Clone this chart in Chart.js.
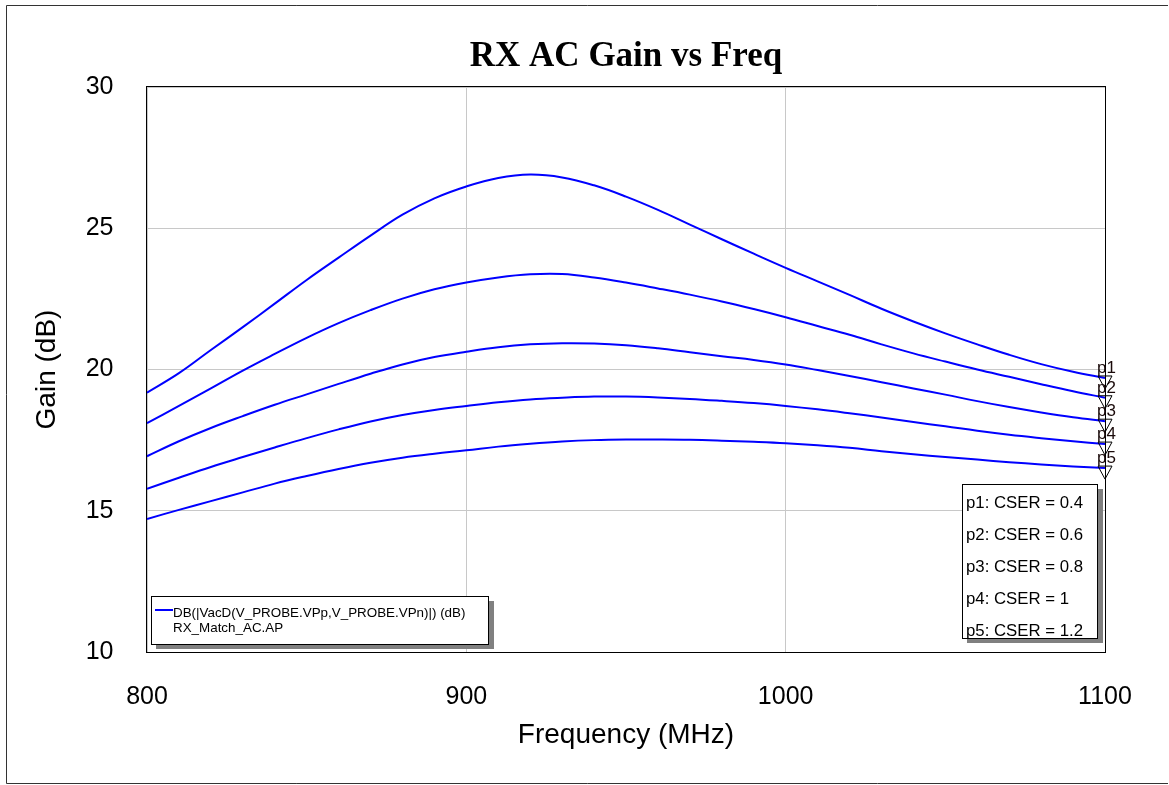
<!DOCTYPE html>
<html>
<head>
<meta charset="utf-8">
<script src="https://cdn.jsdelivr.net/npm/chart.js@4.4.1/dist/chart.umd.min.js"></script>
<style>
  html, body { margin: 0; padding: 0; background: #ffffff; }
  #wrap { width: 1169px; height: 785px; position: relative; }
</style>
</head>
<body>
<div id="wrap"><canvas id="c" width="1169" height="785"></canvas></div>
<script>
const freqs = [800,810,820,830,840,850,860,870,880,890,900,910,920,930,940,950,960,970,980,990,1000,1010,1020,1030,1040,1050,1060,1070,1080,1090,1100];
const gainP1 = [19.18,19.87,20.69,21.50,22.33,23.17,23.96,24.74,25.48,26.06,26.48,26.78,26.90,26.80,26.52,26.12,25.65,25.13,24.61,24.10,23.60,23.12,22.64,22.15,21.70,21.28,20.89,20.52,20.19,19.92,19.70];
const gainP2 = [18.10,18.71,19.33,19.96,20.55,21.12,21.64,22.10,22.51,22.84,23.08,23.26,23.37,23.38,23.26,23.08,22.87,22.65,22.41,22.14,21.85,21.54,21.23,20.89,20.57,20.28,20.00,19.74,19.48,19.23,19.00];
const gainP3 = [16.93,17.46,17.93,18.35,18.75,19.12,19.49,19.85,20.18,20.44,20.63,20.79,20.89,20.93,20.92,20.86,20.75,20.61,20.47,20.34,20.18,19.98,19.77,19.55,19.33,19.11,18.88,18.67,18.48,18.31,18.17];
const gainP4 = [15.78,16.17,16.55,16.90,17.24,17.57,17.88,18.16,18.39,18.57,18.71,18.84,18.94,19.00,19.04,19.04,19.01,18.96,18.89,18.81,18.71,18.59,18.45,18.30,18.14,17.99,17.83,17.69,17.57,17.46,17.36];
const gainP5 = [14.71,15.03,15.34,15.65,15.96,16.23,16.48,16.70,16.88,17.02,17.14,17.27,17.37,17.45,17.50,17.52,17.52,17.51,17.48,17.44,17.39,17.32,17.23,17.11,17.00,16.90,16.81,16.72,16.64,16.57,16.51];
const seriesNames = ['p1','p2','p3','p4','p5'];
const paramLabels = ['p1: CSER = 0.4','p2: CSER = 0.6','p3: CSER = 0.8','p4: CSER = 1','p5: CSER = 1.2'];
const xTicks = [800, 900, 1000, 1100];
const yTicks = [10, 15, 20, 25, 30];
const titleText = 'RX AC Gain vs Freq';
const xTitle = 'Frequency (MHz)';
const yTitle = 'Gain (dB)';
const traceName = 'DB(|VacD(V_PROBE.VPp,V_PROBE.VPn)|) (dB)';
const traceFile = 'RX_Match_AC.AP';

const SANS = '"Liberation Sans", Arial, sans-serif';
const SERIF = '"Liberation Serif", "Times New Roman", serif';
const allSeries = [gainP1, gainP2, gainP3, gainP4, gainP5];

const datasets = allSeries.map((vals, i) => ({
  label: seriesNames[i],
  data: freqs.map((f, k) => ({x: f, y: vals[k]})),
  borderColor: '#0000ff',
  borderWidth: 2,
  pointRadius: 0,
  tension: 0.4,
  fill: false
}));

const decor = {
  id: 'decor',
  afterDraw(chart) {
    const ctx = chart.ctx;
    const a = chart.chartArea;
    ctx.save();
    // outer frame
    ctx.strokeStyle = '#333333';
    ctx.lineWidth = 1;
    ctx.beginPath();
    ctx.moveTo(6.5, 783.5); ctx.lineTo(6.5, 5.5); ctx.lineTo(1168, 5.5);
    ctx.moveTo(6.5, 783.5); ctx.lineTo(1168, 783.5);
    ctx.stroke();
    // plot border
    ctx.strokeStyle = '#000000';
    ctx.strokeRect(Math.round(a.left) - 0.5, Math.round(a.top) - 0.5, Math.round(a.right - a.left) + 1, Math.round(a.bottom - a.top) + 1);

    // end markers
    ctx.lineWidth = 1;
    ctx.strokeStyle = '#000000';
    chart.data.datasets.forEach((ds, i) => {
      const meta = chart.getDatasetMeta(i);
      const pt = meta.data[meta.data.length - 1];
      const x = pt.x, y = pt.y;
      ctx.beginPath();
      ctx.moveTo(x - 7, y - 2);
      ctx.lineTo(x + 7, y - 2);
      ctx.lineTo(x, y + 11);
      ctx.closePath();
      ctx.stroke();
    });
    ctx.fillStyle = '#1a0a0a';
    ctx.font = '17px ' + SANS;
    ctx.textAlign = 'left';
    ctx.textBaseline = 'alphabetic';
    chart.data.datasets.forEach((ds, i) => {
      const meta = chart.getDatasetMeta(i);
      const pt = meta.data[meta.data.length - 1];
      ctx.fillText(ds.label, pt.x - 8, pt.y - 5);
    });

    // left legend
    ctx.fillStyle = '#808080';
    ctx.fillRect(156, 601, 338, 48);
    ctx.fillStyle = '#ffffff';
    ctx.fillRect(151.5, 596.5, 337, 48);
    ctx.strokeStyle = '#000000';
    ctx.strokeRect(151.5, 596.5, 337, 48);
    ctx.strokeStyle = '#0000ff';
    ctx.lineWidth = 2;
    ctx.beginPath(); ctx.moveTo(155, 610); ctx.lineTo(173, 610); ctx.stroke();
    ctx.fillStyle = '#000000';
    ctx.font = '13.4px ' + SANS;
    ctx.fillText(traceName, 173, 616.5);
    ctx.fillText(traceFile, 173, 631.5);

    // right legend
    ctx.lineWidth = 1;
    ctx.fillStyle = '#808080';
    ctx.fillRect(967, 489, 136, 154);
    ctx.fillStyle = '#ffffff';
    ctx.fillRect(962.5, 484.5, 135, 154);
    ctx.strokeStyle = '#000000';
    ctx.strokeRect(962.5, 484.5, 135, 154);
    ctx.fillStyle = '#000000';
    ctx.font = '16.8px ' + SANS;
    paramLabels.forEach((t, i) => {
      ctx.fillText(t, 966, 507.5 + i * 32.1);
    });
    ctx.restore();
  }
};

new Chart(document.getElementById('c'), {
  type: 'line',
  data: { datasets },
  plugins: [decor],
  options: {
    responsive: false,
    animation: false,
    layout: { padding: { left: 0, right: 64, top: 0, bottom: 0 } },
    plugins: {
      legend: { display: false },
      tooltip: { enabled: false },
      title: {
        display: true,
        text: titleText,
        fullSize: false,
        color: '#000000',
        font: { family: SERIF, size: 35, weight: 'bold', lineHeight: 1.2 },
        padding: { top: 36, bottom: 9 }
      }
    },
    scales: {
      x: {
        type: 'linear',
        min: 800, max: 1100,
        afterBuildTicks: s => { s.ticks = xTicks.map(v => ({value: v})); },
        afterFit: s => { s.height = 133; },
        ticks: { color: '#000000', font: { family: SANS, size: 25 }, padding: 30, maxRotation: 0, callback: v => String(v) },
        grid: { color: '#c8c8c8', lineWidth: 1, drawTicks: false },
        border: { display: false },
        title: { display: true, text: xTitle, color: '#000000', font: { family: SANS, size: 28, lineHeight: 1.2 }, padding: { top: 0, bottom: 33 } }
      },
      y: {
        type: 'linear',
        min: 10, max: 30,
        afterBuildTicks: s => { s.ticks = yTicks.map(v => ({value: v})); },
        afterFit: s => { s.width = 147; },
        ticks: { color: '#000000', font: { family: SANS, size: 25 }, padding: 33.5, callback: v => String(v) },
        grid: { color: '#c8c8c8', lineWidth: 1, drawTicks: false },
        border: { display: false },
        title: { display: true, text: yTitle, color: '#000000', font: { family: SANS, size: 28, lineHeight: 1.2 }, padding: { top: 30, bottom: 0 } }
      }
    }
  }
});
</script>
</body>
</html>
